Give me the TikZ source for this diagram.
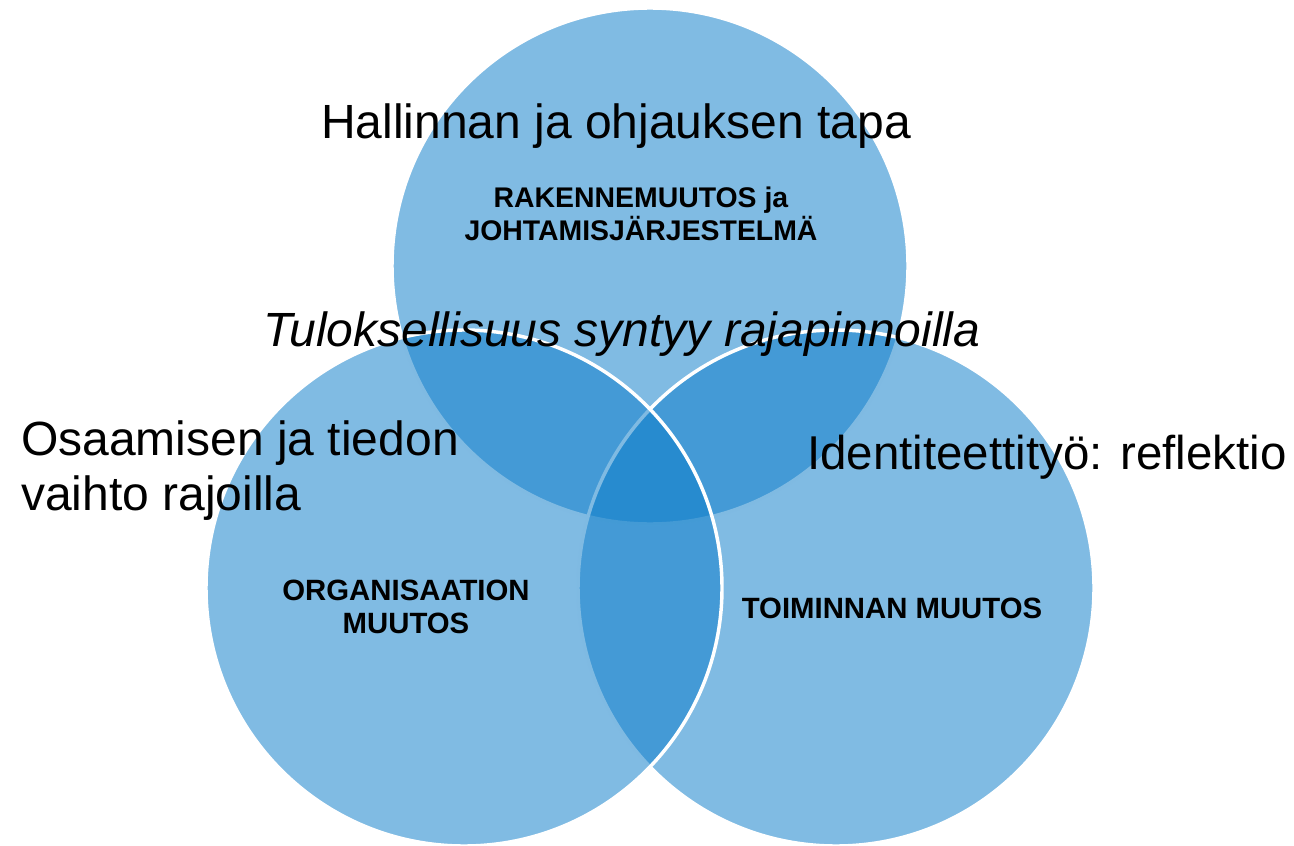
\documentclass[tikz,border=0pt]{standalone}
\usepackage{fontspec}
\setmainfont{Liberation Sans}
\definecolor{venn}{RGB}{15,126,202}
\begin{document}
\begin{tikzpicture}[x=0.75pt,y=-0.75pt,
  vcircle/.style={circle, minimum size=387pt, inner sep=0pt, outer sep=0pt, fill=venn, fill opacity=0.53, draw=white, line width=2.6pt},
  big/.style={font=\fontsize{36}{41.25}\selectfont, inner sep=0pt},
  bigit/.style={font=\itshape\fontsize{36}{41.25}\selectfont, inner sep=0pt},
  small/.style={font=\bfseries\fontsize{21.3}{24.75}\selectfont, align=center, inner sep=0pt},
  smallb/.style={font=\bfseries\fontsize{22}{24.75}\selectfont, align=center, inner sep=0pt}]
\path[use as bounding box] (0,0) rectangle (1294,845);
\node[vcircle] (top) at (650,266) {};
\node[vcircle] (right) at (836,588) {};
\node[vcircle] (left) at (464,588) {};
\node[big, anchor=base] (hall) at (616,138) {Hallinnan ja ohjauksen tapa};
\node[small, anchor=base] (rak) at (641,240) {RAKENNEMUUTOS ja\\JOHTAMISJÄRJESTELMÄ};
\node[bigit, anchor=base] (tulos) at (622,346) {Tuloksellisuus syntyy rajapinnoilla};
\node[big, anchor=base west, align=left] (osa) at (21,510) {Osaamisen ja tiedon\\vaihto rajoilla};
\node[big, anchor=base west, font=\fontsize{35.6}{41.25}\selectfont] (ident) at (807,469) {Identiteettityö: reflektio};
\node[smallb, anchor=base] (org) at (406,633) {ORGANISAATION\\MUUTOS};
\node[smallb, anchor=base] (toim) at (892,618) {TOIMINNAN MUUTOS};
\end{tikzpicture}
\end{document}
